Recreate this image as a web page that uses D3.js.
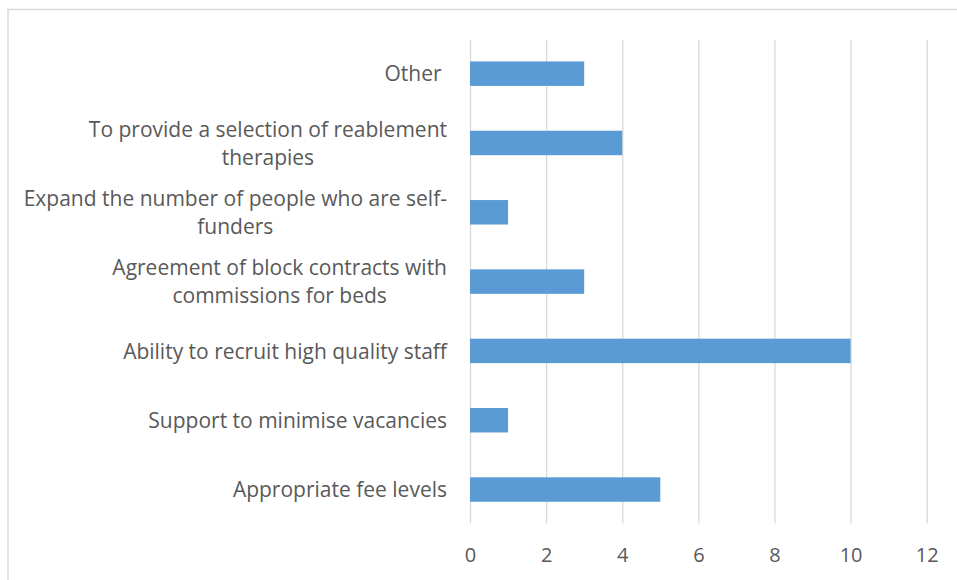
<!DOCTYPE html>
<html>
<head>
<meta charset="utf-8">
<script src="https://cdn.jsdelivr.net/npm/d3@7"></script>
<style>
  html, body { margin: 0; padding: 0; background: #fff; }
  svg { display: block; }
  text { font-family: "Open Sans", sans-serif; fill: #595959; white-space: pre; }
</style>
</head>
<body>
<svg id="chart" width="957" height="580"></svg>
<script>
// Categories, top to bottom; "\n" marks where a long label wraps
const categories = [
  "Other ",
  "To provide a selection of reablement\ntherapies",
  "Expand the number of people who are self-\nfunders",
  "Agreement of block contracts with\ncommissions for beds",
  "Ability to recruit high quality staff",
  "Support to minimise vacancies",
  "Appropriate fee levels"
];
const values = [3, 4, 1, 3, 10, 1, 5];
const xTicks = [0, 2, 4, 6, 8, 10, 12];

const svg = d3.select("#chart");

// Chart frame
svg.append("rect")
  .attr("x", 8).attr("y", 9.5)
  .attr("width", 960).attr("height", 600)
  .attr("fill", "none")
  .attr("stroke", "#d9d9d9")
  .attr("stroke-width", 1.5);

const plot = { left: 470, right: 926.7, top: 40, bottom: 523.3 };

const x = d3.scaleLinear().domain([0, 12]).range([plot.left, plot.right]);
const y = d3.scaleBand()
  .domain(categories)
  .range([39, 524.2])
  .paddingInner(0.647)
  .paddingOuter(0.3235);

// Vertical gridlines
const grid = svg.append("g")
  .attr("transform", `translate(0,${plot.bottom})`)
  .call(d3.axisBottom(x).tickValues(xTicks).tickSize(-(plot.bottom - plot.top)).tickFormat(""));
grid.select(".domain").remove();
grid.selectAll("line").attr("stroke", "#d9d9d9").attr("stroke-width", 1.3);

// Bars
svg.append("g").selectAll("rect")
  .data(values)
  .join("rect")
  .attr("x", x(0))
  .attr("y", (d, i) => y(categories[i]))
  .attr("width", d => x(d) - x(0))
  .attr("height", y.bandwidth())
  .attr("fill", "#5b9bd5");

// Value axis labels
const xAxis = svg.append("g")
  .attr("transform", `translate(0,${plot.bottom})`)
  .call(d3.axisBottom(x).tickValues(xTicks).tickSize(0).tickPadding(0).tickFormat(d3.format("d")));
xAxis.select(".domain").remove();
xAxis.selectAll("text")
  .attr("y", 39)
  .attr("dy", null)
  .style("font-size", "20px")
  .style("font-family", "'Open Sans', sans-serif")
  .attr("fill", "#595959");

// Category labels, right aligned and wrapped
const lineH = 27.7;
const labels = svg.append("g");
categories.forEach(c => {
  const lines = c.split("\n");
  const cy = y(c) + y.bandwidth() / 2;
  const t = labels.append("text")
    .attr("text-anchor", "middle")
    .attr("xml:space", "preserve")
    .style("font-size", "21px");
  const first = cy - (lines.length - 1) * lineH / 2 + 7.7;
  lines.forEach((ln, k) => {
    t.append("tspan")
      .attr("x", 0)
      .attr("y", first + k * lineH)
      .text(ln);
  });
  // right edge of the widest line sits at x = 447
  const w = d3.max(t.selectAll("tspan").nodes(), n => n.getComputedTextLength());
  t.selectAll("tspan").attr("x", 447 - w / 2);
});
</script>
</body>
</html>
